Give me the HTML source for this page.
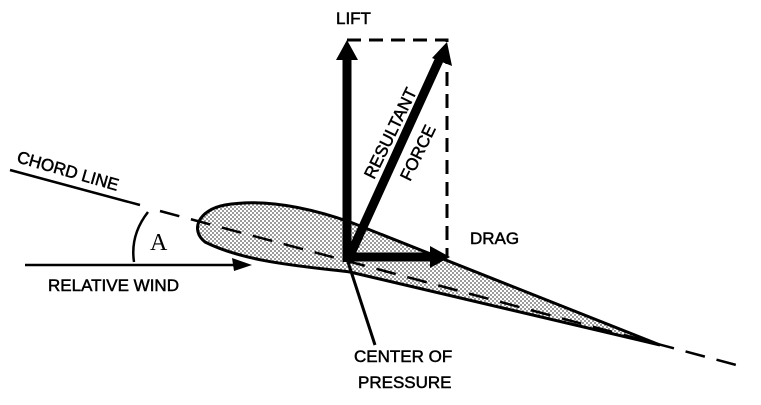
<!DOCTYPE html>
<html><head><style>body{margin:0;background:#fff}</style></head><body>
<svg width="761" height="400" xmlns="http://www.w3.org/2000/svg" font-family="Liberation Sans, sans-serif">
<defs>
<pattern id="dots" width="4" height="4" patternUnits="userSpaceOnUse"><rect width="4" height="4" fill="#fff"/><circle cx="1" cy="1" r="0.9" fill="#555"/><circle cx="3" cy="3" r="0.9" fill="#555"/></pattern>
</defs>
<!-- airfoil -->
<path d="M205,242 C190,230 198,210 225,205 C265,198 310,208 350,222 L660,345 L350,272 C300,266 245,262 205,242 Z" fill="url(#dots)" stroke="#000" stroke-width="3"/>
<!-- chord line -->
<line x1="10" y1="170" x2="140" y2="205" stroke="#000" stroke-width="2.5"/>
<line x1="160" y1="211" x2="740" y2="366" stroke="#000" stroke-width="2.5" stroke-dasharray="20,12"/>
<!-- relative wind -->
<line x1="25" y1="265" x2="240" y2="265" stroke="#000" stroke-width="2.5"/>
<polygon points="252,265 232,258 234,271" fill="#000"/>
<!-- angle arc -->
<path d="M148,212 Q130,235 134,262" fill="none" stroke="#000" stroke-width="2.5"/>
<text x="150" y="250" font-family="Liberation Serif, serif" font-size="24">A</text>
<!-- dashed box -->
<polyline points="347,40 447,40 447,258" fill="none" stroke="#000" stroke-width="3" stroke-dasharray="14,8"/>
<!-- lift -->
<line x1="347" y1="262" x2="347" y2="58" stroke="#000" stroke-width="9"/>
<polygon points="347,40 336,60 358,60" fill="#000"/>
<!-- resultant -->
<line x1="347" y1="262" x2="440" y2="58" stroke="#000" stroke-width="9"/>
<polygon points="447,42 432,58 452,66" fill="#000"/>
<!-- drag -->
<line x1="347" y1="257" x2="432" y2="257" stroke="#000" stroke-width="9"/>
<polygon points="450,257 430,246 430,268" fill="#000"/>
<!-- center of pressure pointer -->
<line x1="348" y1="262" x2="375" y2="345" stroke="#000" stroke-width="3"/>
<g stroke="#000" stroke-width="0.5">
<text x="336" y="24" font-size="17">LIFT</text>
<text x="470" y="244" font-size="17">DRAG</text>
<text x="48" y="291" font-size="17">RELATIVE WIND</text>
<text x="16" y="162" font-size="17" transform="rotate(16 16 162)">CHORD LINE</text>
<text x="354" y="362" font-size="17">CENTER OF</text>
<text x="358" y="388" font-size="17">PRESSURE</text>
<text font-size="17" transform="translate(374,180) rotate(-64)">RESULTANT</text>
<text font-size="17" transform="translate(410,182) rotate(-64)">FORCE</text>
</g>
</svg>
</body></html>
